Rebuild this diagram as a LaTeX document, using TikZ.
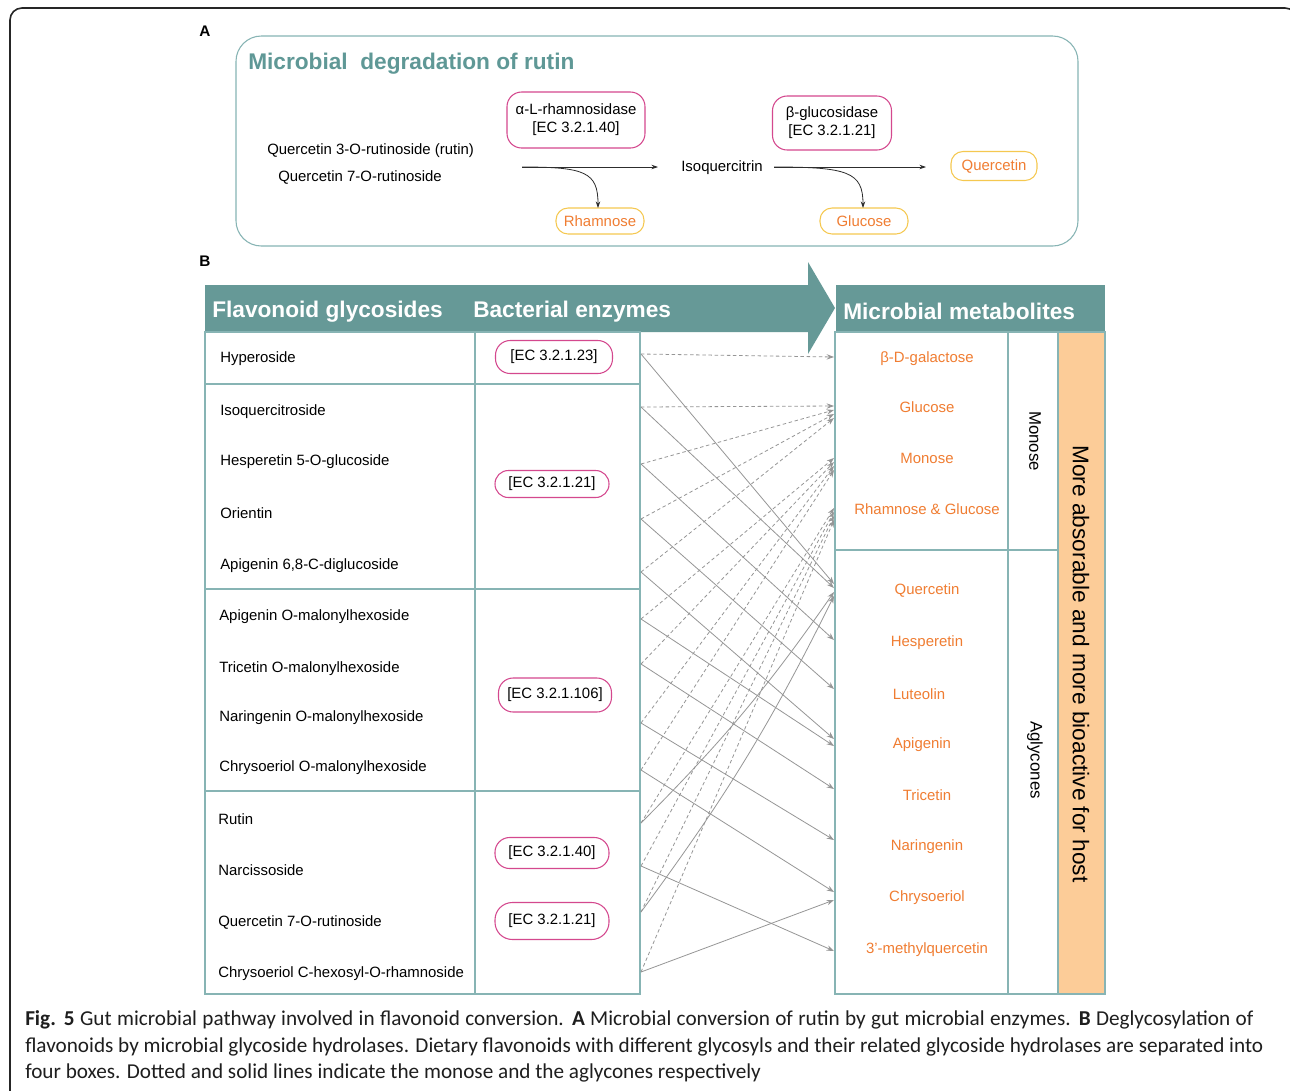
\documentclass[tikz,border=0pt]{standalone}
\usepackage{fontspec}
\setmainfont{Liberation Sans}
\newfontfamily\capfont{Carlito}
\usetikzlibrary{arrows.meta}
\definecolor{tealfill}{RGB}{102,153,151}
\definecolor{tealline}{RGB}{135,180,180}
\definecolor{titleteal}{RGB}{95,152,150}
\definecolor{magline}{RGB}{212,72,142}
\definecolor{orng}{RGB}{240,125,50}
\definecolor{yelline}{RGB}{245,200,80}
\definecolor{peach}{RGB}{252,204,152}
\definecolor{conn}{RGB}{150,150,150}
\definecolor{darkarrow}{RGB}{45,45,45}
\definecolor{captxt}{RGB}{30,30,30}
\tikzset{
  txt/.style={inner sep=0pt, yshift=-1.2pt, font=\fontsize{11.2}{13.4}\selectfont, text=black},
  hdr/.style={inner sep=0pt, yshift=-1.8pt, font=\fontsize{17}{20}\selectfont\bfseries, text=white},
  orn/.style={inner sep=0pt, yshift=-1.2pt, font=\fontsize{11.2}{13.4}\selectfont, text=orng},
  pill/.style={draw=magline, line width=0.8pt, rounded corners=11pt, inner sep=0pt, align=center, font=\fontsize{11.2}{13.4}\selectfont},
  ypill/.style={draw=yelline, line width=0.8pt, rounded corners=9pt, inner sep=0pt, text=orng, font=\fontsize{11.2}{13.4}\selectfont},
  conn/.style={draw=conn, line width=0.6pt, -{Stealth[length=5.5pt,width=4pt]}},
  dconn/.style={conn, dash pattern=on 2.6pt off 2pt},
  darr/.style={draw=darkarrow, line width=0.6pt, -{Stealth[length=5pt,width=3.4pt]}},
  grid/.style={draw=tealline, line width=0.8pt},
  captext/.style={inner sep=0pt, anchor=west, font=\capfont\fontsize{15.9}{18}\selectfont, text=captxt}
}
\begin{document}
\begin{tikzpicture}[x=0.75pt,y=-0.75pt]
\useasboundingbox (0,0) rectangle (1290,1090);
\fill[white] (0,0) rectangle (1290,1090);
% outer frame
\draw[black!85, line width=1.2pt, rounded corners=9pt] (10,1100) -- (10,8) -- (1297,8) -- (1297,1100);

% ---------- Panel A ----------
\node[inner sep=0pt, font=\fontsize{11.5}{13}\selectfont\bfseries] (labA) at (205,31) {A};
\node[draw=tealline, line width=0.8pt, rounded corners=19pt, minimum width=631.5pt, minimum height=157.5pt] (panelA) at (657,141) {};
\node[inner sep=0pt, anchor=west, yshift=-1.5pt, font=\fontsize{17}{20}\selectfont\bfseries, text=titleteal] (titleA) at (248,62) {Microbial\ \ degradation of rutin};
\node[txt, anchor=west] (rut1) at (267,149) {Quercetin 3-O-rutinoside (rutin)};
\node[txt, anchor=west] (rut2) at (278,176) {Quercetin 7-O-rutinoside};
\node[pill, minimum width=103.5pt, minimum height=42pt] (rhamenz) at (576,120) {α-L-rhamnosidase\\{[EC 3.2.1.40]}};
\node[pill, minimum width=89.25pt, minimum height=40.5pt] (glcenz) at (832,123) {β-glucosidase\\{[EC 3.2.1.21]}};
\node[txt] (isoq) at (722,166) {Isoquercitrin};
\node[ypill, minimum width=66pt, minimum height=19.5pt] (rham) at (600,221) {Rhamnose};
\node[ypill, minimum width=66pt, minimum height=19.5pt] (glcA) at (864,221) {Glucose};
\node[ypill, minimum width=64.5pt, minimum height=21.75pt] (querA) at (994,166) {Quercetin};
\coordinate (a1s) at (522,167);
\coordinate (a1e) at (658,167);
\coordinate (a2s) at (774,167);
\coordinate (a2e) at (926,167);
\coordinate (rhamtop) at (598,208);
\coordinate (glctop) at (863,208);
\draw[darr] (a1s) -- (a1e);
\draw[darr] (a1s) .. controls (585,167) and (598,172) .. (rhamtop);
\draw[darr] (a2s) -- (a2e);
\draw[darr] (a2s) .. controls (848,167) and (863,172) .. (glctop);

% ---------- Panel B ----------
\node[inner sep=0pt, font=\fontsize{11.5}{13}\selectfont\bfseries] (labB) at (205,261) {B};
\fill[tealfill] (205,285) -- (808,285) -- (808,262) -- (835,308) -- (808,354) -- (808,332) -- (205,332) -- cycle;
\fill[tealfill] (836,285) rectangle (1105,332);
\node[hdr, anchor=west] (h1) at (212,309) {Flavonoid glycosides};
\node[hdr, anchor=west] (h2) at (473,309) {Bacterial enzymes};
\node[hdr, anchor=west] (h3) at (843,309) {Microbial metabolites};

% left table
\draw[grid] (205,332) rectangle (640,994);
\draw[grid] (475,332) -- (475,994);
\foreach \yy in {384,589,791} \draw[grid] (205,\yy) -- (640,\yy);

\node[txt, anchor=west] (f1) at (220,357) {Hyperoside};
\node[txt, anchor=west] (f2) at (220,410) {Isoquercitroside};
\node[txt, anchor=west] (f3) at (220,460) {Hesperetin 5-O-glucoside};
\node[txt, anchor=west] (f4) at (220,512) {Orientin};
\node[txt, anchor=west] (f5) at (220,564) {Apigenin 6,8-C-diglucoside};
\node[txt, anchor=west] (f6) at (219,615) {Apigenin O-malonylhexoside};
\node[txt, anchor=west] (f7) at (219,667) {Tricetin O-malonylhexoside};
\node[txt, anchor=west] (f8) at (219,716) {Naringenin O-malonylhexoside};
\node[txt, anchor=west] (f9) at (219,766) {Chrysoeriol O-malonylhexoside};
\node[txt, anchor=west] (f10) at (218,818) {Rutin};
\node[txt, anchor=west] (f11) at (218,869) {Narcissoside};
\node[txt, anchor=west] (f12) at (218,921) {Quercetin 7-O-rutinoside};
\node[txt, anchor=west] (f13) at (218,972) {Chrysoeriol C-hexosyl-O-rhamnoside};

\node[pill, minimum width=87.75pt, minimum height=24.75pt] (e1) at (554,357) {[EC 3.2.1.23]};
\node[pill, minimum width=85.5pt, minimum height=20.25pt, rounded corners=10pt] (e2) at (552,484) {[EC 3.2.1.21]};
\node[pill, minimum width=84.75pt, minimum height=25.5pt] (e3) at (555,695) {[EC 3.2.1.106]};
\node[pill, minimum width=85.5pt, minimum height=23.25pt] (e4) at (552,853) {[EC 3.2.1.40]};
\node[pill, minimum width=85.5pt, minimum height=27.75pt, rounded corners=13pt] (e5) at (552,921) {[EC 3.2.1.21]};

% right table
\fill[peach] (1058,332) rectangle (1105,994);
\draw[grid] (835,332) rectangle (1105,994);
\draw[grid] (1008,332) -- (1008,994);
\draw[grid] (1058,332) -- (1058,994);
\draw[grid] (835,550) -- (1058,550);

\node[orn] (m1) at (927,357) {β-D-galactose};
\node[orn] (m2) at (927,406) {Glucose};
\node[orn] (m3) at (927,457) {Monose};
\node[orn] (m4) at (927,508) {Rhamnose \& Glucose};
\node[orn] (m5) at (927,589) {Quercetin};
\node[orn] (m6) at (927,641) {Hesperetin};
\node[orn] (m7) at (919,693) {Luteolin};
\node[orn] (m8) at (922,743) {Apigenin};
\node[orn] (m9) at (927,794) {Tricetin};
\node[orn] (m10) at (927,845) {Naringenin};
\node[orn] (m11) at (927,896) {Chrysoeriol};
\node[orn] (m12) at (927,948) {3'-methylquercetin};

\node[inner sep=0pt, rotate=-90, font=\fontsize{12.6}{15}\selectfont] (mono) at (1035,441) {Monose};
\node[inner sep=0pt, rotate=-90, font=\fontsize{12.6}{15}\selectfont] (agly) at (1035,760) {Aglycones};
\node[inner sep=0pt, rotate=-90, font=\fontsize{17}{20}\selectfont] (absorb) at (1081,664) {More absorable and more bioactive for host};

% connector end points
\foreach \i/\yy in {1/354,2/407,3/464,4/519,5/572,6/619,7/664,8/723,9/770,10/823,11/866,12/912,13/972}
  \coordinate (s\i) at (641,\yy);
\foreach \n/\yy in {gal/357,g1/406,g2/410,g3/414,g4/418,mo1/458,mo2/462,mo3/466,mo4/470,rg1/508,rg2/512,rg3/516,rg4/520,
  q1/584,q2/588,q3/592,q4/596,hes/640,lut/689,api1/739,api2/746,tri/789,nar/840,chr1/892,chr2/900,mq/951}
  \coordinate (t\n) at (834,\yy);

% dashed: monose
\draw[dconn] (s1) -- (tgal);
\draw[dconn] (s2) -- (tg1);
\draw[dconn] (s3) -- (tg2);
\draw[dconn] (s4) -- (tg3);
\draw[dconn] (s5) -- (tg4);
\draw[dconn] (s6) -- (tmo1);
\draw[dconn] (s7) -- (tmo2);
\draw[dconn] (s8) -- (tmo3);
\draw[dconn] (s9) -- (tmo4);
\draw[dconn] (s10) -- (trg1);
\draw[dconn] (s11) -- (trg2);
\draw[dconn] (s12) -- (trg3);
\draw[dconn] (s13) -- (trg4);
% solid: aglycones
\draw[conn] (s1) -- (tq1);
\draw[conn] (s2) -- (tq2);
\draw[conn] (s3) -- (thes);
\draw[conn] (s4) -- (tlut);
\draw[conn] (s5) -- (tapi1);
\draw[conn] (s6) -- (tapi2);
\draw[conn] (s7) -- (ttri);
\draw[conn] (s8) -- (tnar);
\draw[conn] (s9) -- (tchr1);
\draw[conn] (s10) to[bend right=5] (tq3);
\draw[conn] (s11) -- (tmq);
\draw[conn] (s12) to[bend right=5] (tq4);
\draw[conn] (s13) -- (tchr2);

% ---------- caption ----------
\node[captext] (cap1) at (25,1020) {\makebox[921pt][s]{\textbf{Fig. 5} Gut microbial pathway involved in flavonoid conversion. \textbf{A} Microbial conversion of rutin by gut microbial enzymes. \textbf{B} Deglycosylation of}};
\node[captext] (cap2) at (25,1047) {\makebox[928.5pt][s]{flavonoids by microbial glycoside hydrolases. Dietary flavonoids with different glycosyls and their related glycoside hydrolases are separated into}};
\node[captext] (cap3) at (25,1073) {four boxes. Dotted and solid lines indicate the monose and the aglycones respectively};
\end{tikzpicture}
\end{document}
